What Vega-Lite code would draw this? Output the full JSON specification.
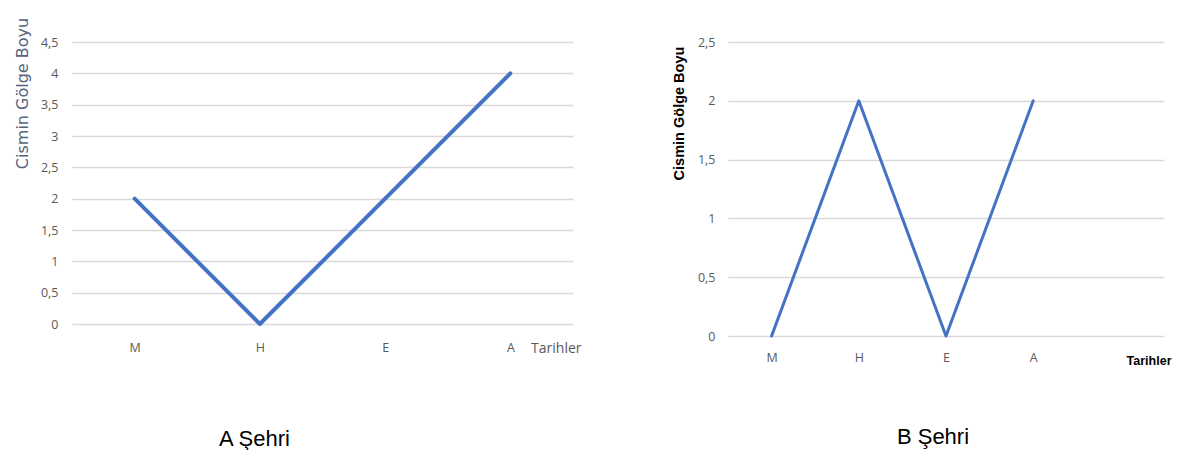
{
  "$schema": "https://vega.github.io/schema/vega-lite/v6.json",
  "background": "white",
  "padding": {"left": 13, "top": 17, "right": 5, "bottom": 0},
  "bounds": "flush",
  "spacing": 155,
  "config": {
    "view": {"stroke": null},
    "axis": {"labelFont": "Open Sans", "titleFont": "Open Sans", "labelColor": "#595959", "labelFontSize": 12.5}
  },
  "hconcat": [
    {
      "title": {"text": "A Şehri", "orient": "bottom", "anchor": "middle", "dx": -68, "offset": 74, "fontSize": 22, "font": "Liberation Sans", "fontWeight": "normal", "color": "#000000"},
      "width": 501,
      "height": 282,
      "data": {"values": [
        {"tarih": "M", "boy": 2},
        {"tarih": "H", "boy": 0},
        {"tarih": "E", "boy": 2},
        {"tarih": "A", "boy": 4}
      ]},
      "mark": {"type": "line", "color": "#4472C4", "strokeWidth": 4, "strokeJoin": "round", "strokeCap": "round"},
      "encoding": {
        "x": {"field": "tarih", "type": "ordinal", "sort": null,
          "scale": {"domain": ["M", "H", "E", "A"], "padding": 0.5},
          "axis": {"title": "Tarihler", "labelAngle": 0, "domain": false, "ticks": false, "tickSize": 0, "grid": false, "labelPadding": 17,
            "titleX": 509, "titleY": 24, "titleAlign": "right", "titleBaseline": "middle", "titleFontSize": 14, "titleFontWeight": "normal", "titleColor": "#595959"}},
        "y": {"field": "boy", "type": "quantitative",
          "scale": {"domain": [0, 4.5]},
          "axis": {"title": "Cismin Gölge Boyu", "values": [0, 0.5, 1, 1.5, 2, 2.5, 3, 3.5, 4, 4.5], "format": "~g", "labelExpr": "replace(datum.label, '.', ',')",
            "domain": false, "ticks": false, "tickSize": 0, "grid": true, "gridColor": "#d9d9d9", "gridWidth": 1.5, "labelPadding": 14,
            "titleAngle": -90, "titleX": -50, "titleY": 51, "titleAlign": "center", "titleBaseline": "middle", "titleFontSize": 16, "titleFontWeight": "normal", "titleColor": "#56657a", "titleFont": "DejaVu Sans"}}
      }
    },
    {
      "title": {"text": "B Şehri", "orient": "bottom", "anchor": "middle", "dx": -13, "offset": 60, "fontSize": 22, "font": "Liberation Sans", "fontWeight": "normal", "color": "#000000"},
      "width": 436,
      "height": 294,
      "data": {"values": [
        {"tarih": "M", "boy": 0},
        {"tarih": "H", "boy": 2},
        {"tarih": "E", "boy": 0},
        {"tarih": "A", "boy": 2}
      ]},
      "mark": {"type": "line", "color": "#4472C4", "strokeWidth": 3, "strokeJoin": "round", "strokeCap": "round"},
      "encoding": {
        "x": {"field": "tarih", "type": "ordinal", "sort": null,
          "scale": {"domain": ["M", "H", "E", "A", " "], "padding": 0.5},
          "axis": {"title": "Tarihler", "labelAngle": 0, "domain": false, "ticks": false, "tickSize": 0, "grid": false, "labelPadding": 15,
            "titleX": 443, "titleY": 24, "titleAlign": "right", "titleBaseline": "middle", "titleFontSize": 12.5, "titleFontWeight": "bold", "titleColor": "#000000", "titleFont": "Liberation Sans"}},
        "y": {"field": "boy", "type": "quantitative",
          "scale": {"domain": [0, 2.5]},
          "axis": {"title": "Cismin Gölge Boyu", "values": [0, 0.5, 1, 1.5, 2, 2.5], "format": "~g", "labelExpr": "replace(datum.label, '.', ',')",
            "domain": false, "ticks": false, "tickSize": 0, "grid": true, "gridColor": "#d9d9d9", "gridWidth": 1.5, "labelPadding": 13,
            "titleAngle": -90, "titleX": -49, "titleY": 71, "titleAlign": "center", "titleBaseline": "middle", "titleFontSize": 14.5, "titleFontWeight": "bold", "titleColor": "#000000", "titleFont": "Liberation Sans"}}
      }
    }
  ]
}
